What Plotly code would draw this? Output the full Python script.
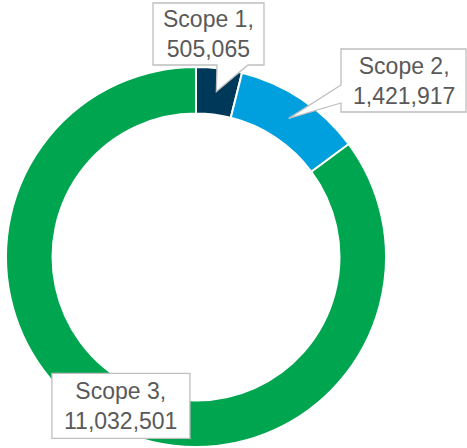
import math
import plotly.graph_objects as go

# ---- data ----
labels = ["Scope 1", "Scope 2", "Scope 3"]
values = [505065, 1421917, 11032501]
colors = ["#00385A", "#00A0DE", "#00A550"]

# ---- layout constants (pixels) ----
W, H = 467, 448
CX, CY, R = 196, 257, 190
HOLE = 0.755
R_IN = R * HOLE
R_MID = (R + R_IN) / 2

# label boxes: (x0, y0, x1, y1) in px, plus wedge base (side, a, b) or None
boxes = [
    ((153, 3, 264, 65), ("bottom", 217, 248)),
    ((341, 49, 466, 112), ("left", 85, 103)),
    ((52, 374, 190, 439), None),
]


def px(x):
    return x / W


def py(y):
    return 1 - y / H


fig = go.Figure(
    go.Pie(
        labels=labels,
        values=values,
        hole=HOLE,
        sort=False,
        direction="clockwise",
        rotation=0,
        marker=dict(colors=colors, line=dict(color="white", width=2)),
        textinfo="none",
        hoverinfo="label+value",
        showlegend=False,
        domain=dict(
            x=[px(CX - R), px(CX + R)],
            y=[py(CY + R), py(CY - R)],
        ),
    )
)

# anchor points at mid-angle / mid-ring of each slice, derived from the data
total = sum(values)
cum = 0
anchors = []
for v in values:
    mid = (cum + v / 2) / total * 2 * math.pi
    anchors.append((CX + R_MID * math.sin(mid), CY - R_MID * math.cos(mid)))
    cum += v

shapes = []
annotations = []
for lab, v, (box, wedge), (tx, ty) in zip(labels, values, boxes, anchors):
    x0, y0, x1, y1 = box
    if wedge is None:
        pts = [(x0, y0), (x1, y0), (x1, y1), (x0, y1)]
        bcx, bcy = tx, ty
        w, h = x1 - x0, y1 - y0
        x0, x1 = bcx - w / 2, bcx + w / 2
        y0, y1 = bcy - h / 2, bcy + h / 2
        pts = [(x0, y0), (x1, y0), (x1, y1), (x0, y1)]
    else:
        side, a, b = wedge
        if side == "bottom":
            pts = [(x0, y0), (x1, y0), (x1, y1), (b, y1), (tx, ty), (a, y1), (x0, y1)]
        else:  # left
            pts = [(x0, y0), (x1, y0), (x1, y1), (x0, y1), (x0, b), (tx, ty), (x0, a)]
    path = "M " + " L ".join(f"{px(x):.5f},{py(y):.5f}" for x, y in pts) + " Z"
    shapes.append(
        dict(
            type="path",
            xref="paper",
            yref="paper",
            path=path,
            fillcolor="white",
            line=dict(color="#BFBFBF", width=1.3),
            layer="above",
        )
    )
    annotations.append(
        dict(
            x=px((x0 + x1) / 2),
            y=py((y0 + y1) / 2),
            xref="paper",
            yref="paper",
            xanchor="center",
            yanchor="middle",
            showarrow=False,
            text=f"{lab},<br>{v:,}",
            font=dict(family="Liberation Sans, Arial, sans-serif", size=23, color="#595959"),
        )
    )

fig.update_layout(
    width=W,
    height=H,
    margin=dict(l=0, r=0, t=0, b=0),
    paper_bgcolor="white",
    plot_bgcolor="white",
    shapes=shapes,
    annotations=annotations,
)

fig.write_html("out.html")
